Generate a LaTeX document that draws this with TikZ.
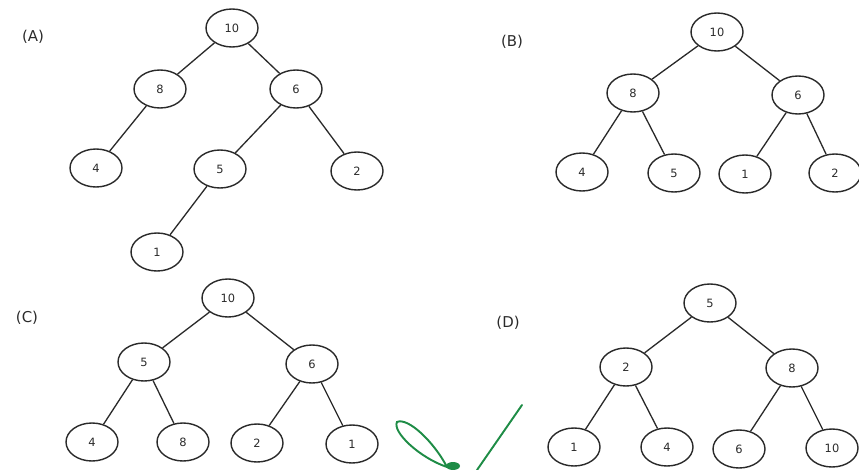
\documentclass[tikz,border=0pt]{standalone}
\usepackage{fontspec}
\setmainfont{DejaVu Sans}
\usepackage{tikz}
\usetikzlibrary{positioning,shapes.geometric}
\definecolor{inkgray}{HTML}{2A2A2A}
\definecolor{tickgreen}{HTML}{1E8C46}

\begin{document}
\begin{tikzpicture}[
  x=0.02cm, y=-0.02cm,
  font=\fontsize{6.5}{7.5}\selectfont,
  key/.style={draw=inkgray, ellipse, line width=0.8pt, minimum width=1.04cm, minimum height=0.76cm, inner sep=0pt, text=inkgray},
  lbl/.style={font=\fontsize{8.5}{9.5}\selectfont, text=inkgray},
  link/.style={draw=inkgray, line width=0.75pt},
  tick/.style={draw=tickgreen, line width=1.1pt, line cap=round},
]
\useasboundingbox (0,0) rectangle (859,470);

% ---------- (A) ----------
\node[lbl] (labA) at (33,37) {(A)};
\node[key] (a10) at (232,28) {10};
\node[key] (a8) at (160,89) {8};
\node[key] (a6) at (296,89) {6};
\node[key] (a4) at (96,168) {4};
\node[key] (a5) at (220,169) {5};
\node[key] (a2) at (357,171) {2};
\node[key] (a1) at (157,252) {1};
\draw[link] (a10) -- (a8);
\draw[link] (a10) -- (a6);
\draw[link] (a8) -- (a4);
\draw[link] (a6) -- (a5);
\draw[link] (a6) -- (a2);
\draw[link] (a5) -- (a1);

% ---------- (B) ----------
\node[lbl] (labB) at (512,42) {(B)};
\node[key] (b10) at (717,32) {10};
\node[key] (b8) at (633,93) {8};
\node[key] (b6) at (798,95) {6};
\node[key] (b4) at (582,172) {4};
\node[key] (b5) at (674,173) {5};
\node[key] (b1) at (745,174) {1};
\node[key] (b2) at (835,173) {2};
\draw[link] (b10) -- (b8);
\draw[link] (b10) -- (b6);
\draw[link] (b8) -- (b4);
\draw[link] (b8) -- (b5);
\draw[link] (b6) -- (b1);
\draw[link] (b6) -- (b2);

% ---------- (C) ----------
\node[lbl] (labC) at (27,318) {(C)};
\node[key] (c10) at (228,298) {10};
\node[key] (c5) at (144,362) {5};
\node[key] (c6) at (312,364) {6};
\node[key] (c4) at (92,442) {4};
\node[key] (c8) at (183,442) {8};
\node[key] (c2) at (257,443) {2};
\node[key] (c1) at (352,444) {1};
\draw[link] (c10) -- (c5);
\draw[link] (c10) -- (c6);
\draw[link] (c5) -- (c4);
\draw[link] (c5) -- (c8);
\draw[link] (c6) -- (c2);
\draw[link] (c6) -- (c1);

% ---------- (D) ----------
\node[lbl] (labD) at (508,323) {(D)};
\node[key] (d5) at (710,303) {5};
\node[key] (d2) at (626,367) {2};
\node[key] (d8) at (792,368) {8};
\node[key] (d1) at (574,447) {1};
\node[key] (d4) at (667,447) {4};
\node[key] (d6) at (739,449) {6};
\node[key] (d10) at (832,448) {10};
\draw[link] (d5) -- (d2);
\draw[link] (d5) -- (d8);
\draw[link] (d2) -- (d1);
\draw[link] (d2) -- (d4);
\draw[link] (d8) -- (d6);
\draw[link] (d8) -- (d10);

% ---------- tick mark ----------
\draw[tick] (447,467) .. controls (434,442) and (408,417) .. (397,422)
  .. controls (392,432) and (420,458) .. (447,467);
\draw[tick] (477,470) -- (522,405);
\fill[tickgreen] (453,466) ellipse (7 and 4);
\end{tikzpicture}
\end{document}
